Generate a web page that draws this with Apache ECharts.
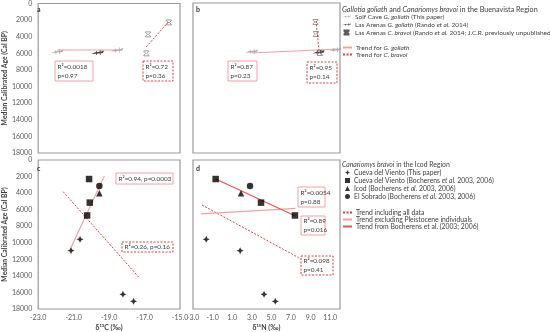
<!DOCTYPE html>
<html><head><meta charset="utf-8">
<script src="https://cdn.jsdelivr.net/npm/echarts@6/dist/echarts.min.js"></script>
<style>html,body{margin:0;padding:0;background:#fff}#c{width:550px;height:332px}</style>
</head><body><div id="c"></div>
<script>
// ---------- DATA ----------
// Buenavista region (panels a: d13C, b: d15N)
const solfAge = [5800, 5600];
const solfC13 = [-21.93, -18.55];
const solfN15 = [3.0, 11.5];
const lasArenasGAge = [5900];
const lasArenasGC13 = [-19.64];
const lasArenasGN15 = [9.8];
const lasArenasCAge = [2280, 3720, 6000];
const lasArenasCC13 = [-15.63, -16.8, -16.9];
const lasArenasCN15 = [9.5, 9.55, 9.95];
const trendGC13 = [[-21.93, 5600], [-18.55, 5600]];
const trendCC13 = [[-16.91, 5240], [-15.63, 2160]];
const trendGN15 = [[3.0, 6000], [11.8, 5520]];
const trendCN15 = [[9.55, 2160], [9.86, 5640]];
// Icod region (panels c: d13C, d: d15N)
const cdvThisAge = [9580, 10960, 16220, 17070];
const cdvThisC13 = [-20.64, -21.15, -18.22, -17.62];
const cdvThisN15 = [-1.65, 1.81, 4.25, 5.40];
const cdvBochAge = [2300, 5150, 6700];
const cdvBochC13 = [-20.13, -20.09, -20.24];
const cdvBochN15 = [-0.69, 3.94, 7.40];
const icodAge = [4020];
const icodC13 = [-19.55];
const icodN15 = [1.90];
const sobradoAge = [3140];
const sobradoC13 = [-19.55];
const sobradoN15 = [2.82];
const trendAllC13 = [[-21.59, 3830], [-17.27, 14290]];
const trendExclC13 = [[-21.19, 10790], [-19.27, 1930]];
const trendAllN15 = [[-2.08, 5440], [7.78, 11800]];
const trendExclN15 = [[-2.18, 6520], [7.45, 5840]];
const trendBochN15 = [[-0.69, 2300], [7.40, 6730]];
// annotations
const statTexts = {
  a1: 'R²=0.0018\np=0.97', a2: 'R²=0.72\np=0.36',
  b1: 'R²=0.87\np=0.23', b2: 'R²=0.95\np=0.14',
  c1: 'R²=0.94, p=0.0003', c2: 'R²=0.26, p=0.16',
  d1: 'R²=0.0054\np=0.88', d2: 'R²=0.89\np=0.016', d3: 'R²=0.098\np=0.41'
};
const ageTicks = {min: 0, max: 18000, step: 2000};

// ---------- helpers ----------
const F = 'Lato, "Open Sans", sans-serif';
const zip = (xs, ys) => xs.map((x, i) => [x, ys[i]]);
const LIZ = 'path://M0,11 C6,8 10,7 14,7 L15,4 L17,4 L17,7 L26,6 L27,2 L29,2 L29,6 L34,5 L38,3 L40,5 L38,8 L34,9 L29,9 L30,13 L28,13 L26,9 L17,10 L17,13 L15,13 L14,10 C10,10 6,10 0,11 Z';
const HOUR = 'path://M0,0 L10,0 L10,1.2 L6.2,5 L10,8.8 L10,10 L0,10 L0,8.8 L3.8,5 L0,1.2 Z';
const STAR = 'path://M5,0 L6.6,3.4 L10,5 L6.6,6.6 L5,10 L3.4,6.6 L0,5 L3.4,3.4 Z';

const N_SOLF = 'Solf Cave G. goliath (This paper)';
const N_LAG = 'Las Arenas G. goliath (Rando et al. 2014)';
const N_LAC = 'Las Arenas C. bravoi (Rando et al. 2014; J.C.R. previously unpublished)';
const N_TG = 'Trend for G. goliath';
const N_TC = 'Trend for C. bravoi';
const N_CDV1 = 'Cueva del Viento (This paper)';
const N_CDV2 = 'Cueva del Viento (Bocherens et al. 2003, 2006)';
const N_ICOD = 'Icod (Bocherens et al. 2003, 2006)';
const N_SOB = 'El Sobrado (Bocherens et al. 2003, 2006)';
const N_ALL = 'Trend including all data';
const N_EXCL = 'Trend excluding Pleistocene individuals';
const N_BOCH = 'Trend from Bocherens et al. (2003; 2006)';

const richNames = {};
richNames[N_SOLF] = 'Solf Cave {i|G. goliath} (This paper)';
richNames[N_LAG] = 'Las Arenas {i|G. goliath} (Rando {i|et al.} 2014)';
richNames[N_LAC] = 'Las Arenas {i|C. bravoi} (Rando {i|et al.} 2014; J.C.R. previously unpublished)';
richNames[N_TG] = 'Trend for {i|G. goliath}';
richNames[N_TC] = 'Trend for {i|C. bravoi}';
richNames[N_CDV2] = 'Cueva del Viento (Bocherens {i|et al.} 2003, 2006)';
richNames[N_ICOD] = 'Icod (Bocherens {i|et al.} 2003, 2006)';
richNames[N_SOB] = 'El Sobrado (Bocherens {i|et al.} 2003, 2006)';

const C_LIGHT = '#f4a0a0', C_RED = '#ee5050', C_DASH = '#ec3a3a';

const grids = [
  {left: 34, top: 3, width: 146, height: 150},
  {left: 193, top: 3, width: 147, height: 150},
  {left: 34, top: 160, width: 146, height: 149},
  {left: 193, top: 160, width: 147, height: 149}
].map(g => Object.assign({show: true, borderColor: '#9a9a9a', borderWidth: 1.2, backgroundColor: '#fff'}, g));

const oddFmt = v => (Math.abs(Math.round(v)) % 2 === 1) ? v.toFixed(1) : '';
function xAx(gi, min, max, showLabels, name) {
  return {
    gridIndex: gi, type: 'value', min: min, max: max, interval: 1,
    axisLine: {show: false}, axisTick: {show: false}, splitLine: {show: false},
    axisLabel: {show: showLabels, formatter: oddFmt, color: '#595959', fontSize: 7, fontFamily: F, margin: 5, interval: 0},
    name: name || '', nameLocation: 'middle', nameGap: 15,
    nameTextStyle: {fontFamily: F, fontWeight: 'bold', fontSize: 7, color: '#404040'}
  };
}
function yAx(gi, showLabels) {
  return {
    gridIndex: gi, type: 'value', inverse: true, min: ageTicks.min, max: ageTicks.max, interval: ageTicks.step,
    axisLine: {show: false}, axisTick: {show: false}, splitLine: {show: false},
    axisLabel: {show: showLabels, formatter: v => String(v), color: '#595959', fontSize: 7, fontFamily: F, margin: 6},
    name: showLabels ? 'Median Calibrated Age (Cal BP)' : '', nameLocation: 'middle', nameGap: 25, nameRotate: 90,
    nameTextStyle: {fontFamily: F, fontWeight: 'bold', fontSize: 6.8, color: '#404040'}
  };
}

function scat(name, gi, data, symbol, size, color, border) {
  return {
    type: 'scatter', name: name, xAxisIndex: gi, yAxisIndex: gi, data: data, symbol: symbol, symbolSize: size, z: 5,
    itemStyle: {color: color, borderColor: border || color, borderWidth: border ? 0.6 : 0}
  };
}
function trend(name, gi, data, color, dashed, width) {
  return {
    type: 'line', name: name, xAxisIndex: gi, yAxisIndex: gi, data: data, symbol: 'none', z: 3,
    lineStyle: {color: color, width: width || 1, type: dashed ? [2, 1.5] : 'solid'},
    itemStyle: {color: color}
  };
}

const series = [
  // a
  trend(N_TG, 0, trendGC13, C_LIGHT, false, 1.2),
  trend(N_TC, 0, trendCC13, C_DASH, true, 1),
  scat(N_SOLF, 0, zip(solfC13, solfAge), LIZ, [12, 5], '#9a9a9a'),
  scat(N_LAG, 0, zip(lasArenasGC13, lasArenasGAge), LIZ, [12, 5], '#111'),
  scat(N_LAC, 0, zip(lasArenasCC13, lasArenasCAge), HOUR, [5, 5], 'rgba(0,0,0,0)', '#333'),
  // b
  trend(N_TG, 1, trendGN15, C_LIGHT, false, 1.2),
  trend(N_TC, 1, trendCN15, C_DASH, true, 1),
  scat(N_SOLF, 1, zip(solfN15, solfAge), LIZ, [12, 5], '#9a9a9a'),
  scat(N_LAG, 1, zip(lasArenasGN15, lasArenasGAge), LIZ, [12, 5], '#111'),
  scat(N_LAC, 1, zip(lasArenasCN15, lasArenasCAge), HOUR, [5, 5], 'rgba(0,0,0,0)', '#333'),
  // c
  trend(N_ALL, 2, trendAllC13, C_DASH, true, 1),
  trend(N_EXCL, 2, trendExclC13, C_LIGHT, false, 1.2),
  scat(N_CDV1, 2, zip(cdvThisC13, cdvThisAge), STAR, 7, '#000'),
  scat(N_CDV2, 2, zip(cdvBochC13, cdvBochAge), 'rect', 6.5, '#000'),
  scat(N_ICOD, 2, zip(icodC13, icodAge), 'triangle', 6.5, '#000'),
  scat(N_SOB, 2, zip(sobradoC13, sobradoAge), 'circle', 6.5, '#000'),
  // d
  trend(N_ALL, 3, trendAllN15, C_DASH, true, 1),
  trend(N_EXCL, 3, trendExclN15, C_LIGHT, false, 1.2),
  trend(N_BOCH, 3, trendBochN15, C_RED, false, 1.2),
  scat(N_CDV1, 3, zip(cdvThisN15, cdvThisAge), STAR, 7, '#000'),
  scat(N_CDV2, 3, zip(cdvBochN15, cdvBochAge), 'rect', 6.5, '#000'),
  scat(N_ICOD, 3, zip(icodN15, icodAge), 'triangle', 6.5, '#000'),
  scat(N_SOB, 3, zip(sobradoN15, sobradoAge), 'circle', 6.5, '#000')
];

function legText(sz) {
  return {
    fontFamily: F, fontSize: sz, color: '#404040', padding: [0, 0, 0, -1],
    rich: {i: {fontFamily: F, fontSize: sz, fontStyle: 'italic', color: '#404040'}}
  };
}
const legFmt = n => richNames[n] || n;
function leg(data, left, top, gap, w, h, sz, isLine) {
  const o = {
    data: data, left: left, top: top, orient: 'vertical', itemGap: gap, itemWidth: w, itemHeight: h,
    textStyle: legText(sz), formatter: legFmt, selectedMode: false, padding: 0
  };
  if (isLine) o.itemStyle = {opacity: 0};
  return o;
}

// annotation boxes
function box(x, y, w, h, text, dashed) {
  return [
    {type: 'rect', shape: {x: x, y: y, width: w, height: h}, z: 10,
     style: {fill: '#fff', stroke: dashed ? C_DASH : C_LIGHT, lineWidth: 1, lineDash: dashed ? [2, 1.5] : null}},
    {type: 'text', x: x + 2.5, y: y + h / 2, z: 11,
     style: {text: text, fill: '#404040', font: '6.4px ' + F, verticalAlign: 'middle', lineHeight: 9}}
  ];
}
function letter(x, y, t) {
  return {type: 'text', x: x, y: y, z: 11, style: {text: t, fill: '#333', font: 'bold 7px ' + F, verticalAlign: 'middle'}};
}
function heading(y, text, size) {
  return {type: 'text', x: 342, y: y, style: {
    text: text, font: size + 'px ' + F, fill: '#404040', verticalAlign: 'middle',
    rich: {i: {fontFamily: F, fontSize: size, fontStyle: 'italic', fill: '#404040'}}}};
}

const graphic = [].concat(
  box(55, 61, 38, 20, statTexts.a1, false),
  box(143, 61, 30, 20, statTexts.a2, true),
  box(228, 61, 29, 20, statTexts.b1, false),
  box(307, 62, 30, 21, statTexts.b2, true),
  box(116, 173, 57, 11, statTexts.c1, false),
  box(122, 242, 51, 10, statTexts.c2, true),
  box(298, 187, 27, 20, statTexts.d1, false),
  box(301, 216, 24, 19, statTexts.d2, false),
  box(301, 256, 32, 19, statTexts.d3, true),
  [letter(37, 10, 'a'), letter(196, 10, 'b'), letter(37, 169, 'c'), letter(196, 169, 'd'),
   heading(10, '{i|Gallotia goliath} and {i|Canariomys bravoi} in the Buenavista Region', 7.2),
   heading(165, '{i|Canariomys bravoi} in the Icod Region', 6.8)]
);

const option = {
  animation: false,
  backgroundColor: '#fff',
  textStyle: {fontFamily: F},
  grid: grids,
  xAxis: [
    xAx(0, -23, -15, false), xAx(1, -3, 12, false),
    xAx(2, -23, -15, true, 'δ¹³C (‰)'), xAx(3, -3, 12, true, 'δ¹⁵N (‰)')
  ],
  yAxis: [yAx(0, true), yAx(1, false), yAx(2, true), yAx(3, false)],
  legend: [
    leg([N_SOLF, N_LAG, N_LAC], 342, 13, 1, 9, 4, 6.5),
    leg([N_TG, N_TC], 342, 44, 0, 9, 5, 6.5, true),
    leg([N_CDV1, N_CDV2, N_ICOD, N_SOB], 345, 169, 1, 5, 5, 6.8),
    leg([N_ALL, N_EXCL, N_BOCH], 342, 209, 0, 9, 5, 6.8, true)
  ],
  series: series,
  graphic: graphic
};
const chart = echarts.init(document.getElementById('c'), null, {renderer: 'canvas'});
chart.setOption(option);
</script></body></html>
